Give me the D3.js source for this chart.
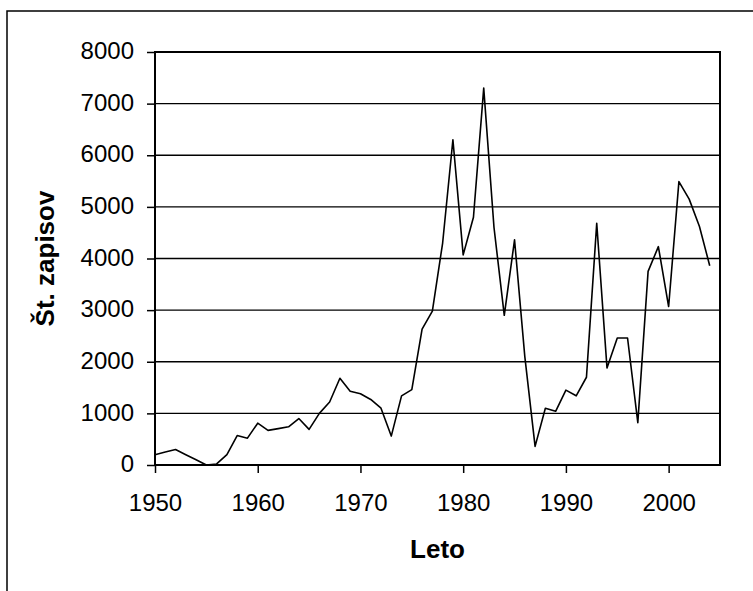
<!DOCTYPE html>
<html>
<head>
<meta charset="utf-8">
<script src="https://cdn.jsdelivr.net/npm/d3@7"></script>
<style>
  body { margin: 0; background: #fff; }
  text { font-family: "Liberation Sans", Arial, sans-serif; fill: #000; }
</style>
</head>
<body>
<div id="chart"></div>
<script>
// data
const years = [1950, 1951, 1952, 1953, 1954, 1955, 1956, 1957, 1958, 1959,
  1960, 1961, 1962, 1963, 1964, 1965, 1966, 1967, 1968, 1969,
  1970, 1971, 1972, 1973, 1974, 1975, 1976, 1977, 1978, 1979,
  1980, 1981, 1982, 1983, 1984, 1985, 1986, 1987, 1988, 1989,
  1990, 1991, 1992, 1993, 1994, 1995, 1996, 1997, 1998, 1999,
  2000, 2001, 2002, 2003, 2004];
const counts = [200, 250, 300, 200, 100, 0, 20, 200, 570, 520,
  810, 670, 705, 740, 900, 690, 1000, 1220, 1680, 1430,
  1380, 1270, 1100, 560, 1340, 1460, 2630, 2980, 4300, 6300,
  4070, 4800, 7300, 4600, 2900, 4360, 2100, 360, 1100, 1040,
  1450, 1340, 1700, 4680, 1880, 2460, 2460, 820, 3750, 4230,
  3070, 5490, 5150, 4620, 3860];
const xTicks = [1950, 1960, 1970, 1980, 1990, 2000];
const yTicks = [0, 1000, 2000, 3000, 4000, 5000, 6000, 7000, 8000];
const xTitle = "Leto";
const yTitle = "Št. zapisov";

const W = 753, H = 591;
let plot = {left: 155, right: 720, top: 52, bottom: 465};

let svg = d3.select("#chart").append("svg")
  .attr("width", W).attr("height", H);

// outer chart frame (only top and left survive in the scan)
svg.append("path")
  .attr("d", `M7,${H} V11 H${W}`)
  .attr("fill", "none").attr("stroke", "#000").attr("stroke-width", 1.5);

let x = d3.scaleLinear().domain([1950, 2005]).range([plot.left, plot.right]);
let y = d3.scaleLinear().domain([0, 8000]).range([plot.bottom, plot.top]);

// gridlines
svg.append("g").selectAll("line").data(yTicks).join("line")
  .attr("x1", plot.left).attr("x2", plot.right)
  .attr("y1", d => y(d)).attr("y2", d => y(d))
  .attr("stroke", "#000").attr("stroke-width", 1.4);

// axes
let xAxis = svg.append("g")
  .attr("transform", `translate(0,${plot.bottom})`)
  .call(d3.axisBottom(x).tickValues(xTicks).tickFormat(d3.format("d")).tickSize(8).tickPadding(21));
let yAxis = svg.append("g")
  .attr("transform", `translate(${plot.left},0)`)
  .call(d3.axisLeft(y).tickValues(yTicks).tickFormat(d3.format("d")).tickSize(8).tickPadding(13));

[xAxis, yAxis].forEach(a => {
  a.select(".domain").remove();
  a.selectAll(".tick line").attr("stroke", "#000").attr("stroke-width", 1.5);
  a.selectAll(".tick text").attr("font-size", 24).attr("font-family", null);
});
xAxis.selectAll(".tick text").attr("dy", "0.71em");
yAxis.selectAll(".tick text").attr("dy", "0.28em");

// plot frame
svg.append("rect")
  .attr("x", plot.left).attr("y", plot.top)
  .attr("width", plot.right - plot.left).attr("height", plot.bottom - plot.top)
  .attr("fill", "none").attr("stroke", "#000").attr("stroke-width", 2);

// series
let line = d3.line()
  .x((d, i) => x(years[i]))
  .y(d => y(d));
svg.append("path")
  .datum(counts)
  .attr("d", line)
  .attr("fill", "none").attr("stroke", "#000")
  .attr("stroke-width", 1.6).attr("stroke-linejoin", "round");

// titles
svg.append("text")
  .attr("x", (plot.left + plot.right) / 2).attr("y", 558)
  .attr("text-anchor", "middle").attr("font-size", 26).attr("font-weight", "bold")
  .text(xTitle);
svg.append("text")
  .attr("transform", `translate(54,${(plot.top + plot.bottom) / 2}) rotate(-90)`)
  .attr("text-anchor", "middle").attr("font-size", 26).attr("font-weight", "bold")
  .text(yTitle);
</script>
</body>
</html>
